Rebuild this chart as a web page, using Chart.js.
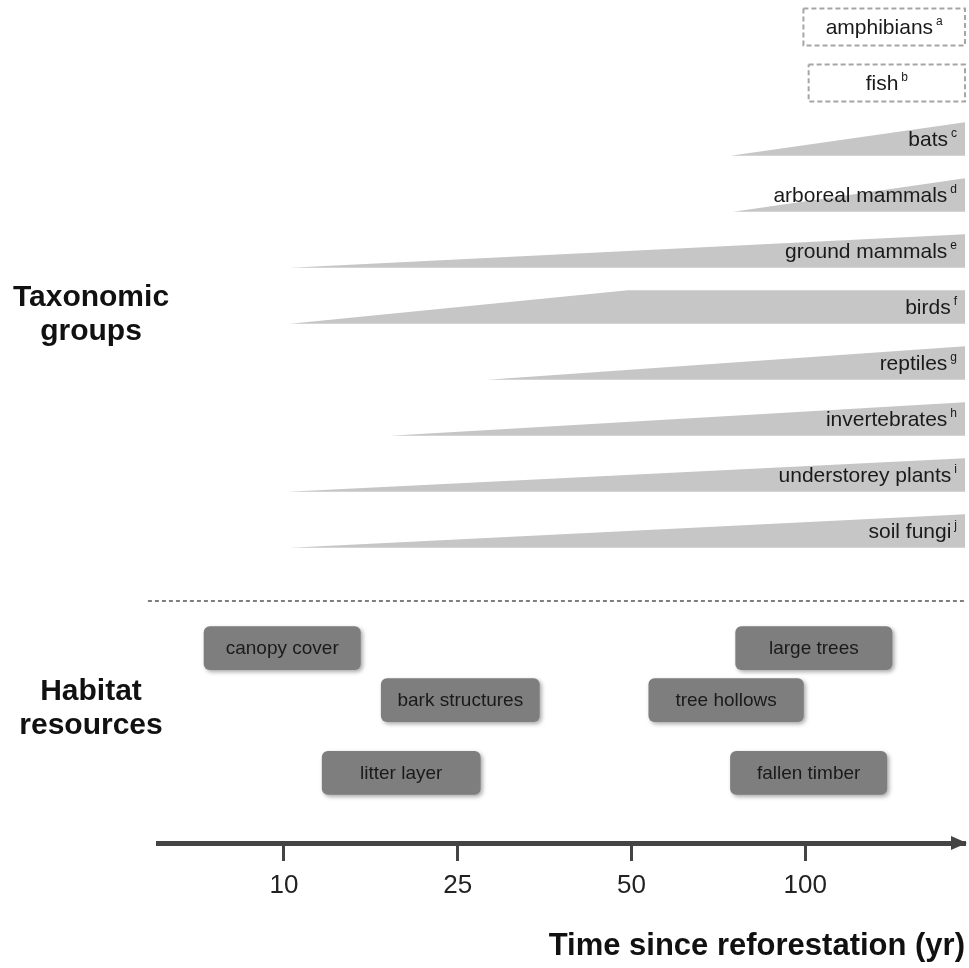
<!DOCTYPE html>
<html>
<head>
<meta charset="utf-8">
<script src="https://cdn.jsdelivr.net/npm/chart.js@4.4.1/dist/chart.umd.min.js"></script>
<style>
  html, body { margin: 0; padding: 0; background: #fff; }
  #wrap { width: 969px; height: 968px; position: relative; }
</style>
</head>
<body>
<div id="wrap"><canvas id="chart"></canvas></div>
<script>
// x axis is ordinal: positions 1..4 carry the year labels
const tickPositions = [1, 2, 3, 4];
const tickLabels = ['10', '25', '50', '100'];
const axisMin = 0.275;
const axisMax = 4.92;

// taxonomic groups, top to bottom (row = y value)
const taxa = ['amphibians', 'fish', 'bats', 'arboreal mammals', 'ground mammals', 'birds',
  'reptiles', 'invertebrates', 'understorey plants', 'soil fungi'];
const taxaNotes = ['a', 'b', 'c', 'd', 'e', 'f', 'g', 'h', 'i', 'j'];
const taxaRows = [0, 1, 2, 3, 4, 5, 6, 7, 8, 9];
// first response (wedge tip) and where the response is full; null = no evidence yet
const taxaStart = [3.99, 4.02, 3.57, 3.585, 1.035, 1.035, 2.17, 1.61, 1.02, 1.035];
const taxaFull = [null, null, 4.92, 4.92, 4.92, 2.98, 4.92, 4.92, 4.92, 4.92];

// habitat resources
const habitats = ['canopy cover', 'large trees', 'bark structures', 'tree hollows', 'litter layer', 'fallen timber'];
const habitatRows = [11.09, 11.09, 12.02, 12.02, 13.32, 13.32];
const habitatStart = [0.54, 3.60, 1.56, 3.10, 1.22, 3.57];
const habitatEnd = [1.44, 4.50, 2.47, 3.99, 2.13, 4.47];

const dividerRow = 10.25;
const sideLabels = [
  { lines: ['Taxonomic', 'groups'], row: 5.13 },
  { lines: ['Habitat', 'resources'], row: 12.17 }
];

const FONT = "'Liberation Sans', Arial, sans-serif";
const half = 0.3;

const datasets = [];
taxa.forEach(function(name, i) {
  const row = taxaRows[i];
  const start = taxaStart[i];
  if (taxaFull[i] === null) {
    const h = 0.33;
    datasets.push({
      type: 'line', label: name, clip: false,
      data: [
        { x: start, y: row - h }, { x: axisMax, y: row - h },
        { x: axisMax, y: row + h }, { x: start, y: row + h }, { x: start, y: row - h }
      ],
      borderColor: '#a5a5a5', borderWidth: 2, borderDash: [5, 3],
      fill: false, pointRadius: 0, tension: 0
    });
  } else {
    const pts = [{ x: start, y: row + half }, { x: taxaFull[i], y: row - half }];
    if (taxaFull[i] < axisMax) pts.push({ x: axisMax, y: row - half });
    pts.push({ x: axisMax, y: row + half });
    datasets.push({
      type: 'line', label: name, data: pts,
      backgroundColor: '#c6c6c6', borderWidth: 0, borderColor: 'rgba(0,0,0,0)',
      fill: 'shape', pointRadius: 0, tension: 0
    });
  }
});

datasets.push({
  type: 'line', label: 'divider', clip: false,
  data: [{ x: 0.217, y: dividerRow }, { x: axisMax, y: dividerRow }],
  borderColor: '#555', borderWidth: 1.5, borderDash: [4, 3],
  fill: false, pointRadius: 0
});

datasets.push({
  type: 'bar', label: 'habitat', indexAxis: 'y',
  data: habitats.map(function(h, i) { return { x: [habitatStart[i], habitatEnd[i]], y: habitatRows[i] }; }),
  backgroundColor: '#7e7e7e', borderRadius: 6, borderSkipped: false, barThickness: 43
});
const habitatIndex = datasets.length - 1;

const decorations = {
  id: 'decorations',
  beforeDatasetDraw(chart, args) {
    if (args.index !== habitatIndex) return;
    const ctx = chart.ctx;
    ctx.save();
    ctx.shadowColor = 'rgba(0,0,0,0.35)';
    ctx.shadowBlur = 4;
    ctx.shadowOffsetX = 2;
    ctx.shadowOffsetY = 2;
  },
  afterDatasetDraw(chart, args) {
    if (args.index === habitatIndex) chart.ctx.restore();
  },
  afterDatasetsDraw(chart) {
    const ctx = chart.ctx;
    const xs = chart.scales.x, ys = chart.scales.y;
    ctx.save();
    ctx.fillStyle = '#1a1a1a';
    ctx.textBaseline = 'middle';
    taxa.forEach(function(name, i) {
      const y = ys.getPixelForValue(taxaRows[i]);
      ctx.font = '21px ' + FONT;
      const w = ctx.measureText(name).width;
      ctx.font = '12px ' + FONT;
      const sw = ctx.measureText(taxaNotes[i]).width;
      let right;
      if (taxaFull[i] === null) {
        const cx = (xs.getPixelForValue(taxaStart[i]) + xs.getPixelForValue(axisMax)) / 2;
        right = cx + (w + 3 + sw) / 2;
      } else {
        right = xs.getPixelForValue(axisMax) - 8;
      }
      ctx.textAlign = 'left';
      ctx.font = '21px ' + FONT;
      ctx.fillText(name, right - sw - 3 - w, y + 1);
      ctx.font = '12px ' + FONT;
      ctx.fillText(taxaNotes[i], right - sw, y - 5);
    });
    // habitat labels
    const meta = chart.getDatasetMeta(habitatIndex);
    ctx.font = '19px ' + FONT;
    ctx.textAlign = 'center';
    meta.data.forEach(function(bar, i) {
      const c = bar.getCenterPoint();
      ctx.fillText(habitats[i], c.x, c.y + 1);
    });
    // side labels
    ctx.font = 'bold 30px ' + FONT;
    ctx.fillStyle = '#111';
    sideLabels.forEach(function(s) {
      const cy = ys.getPixelForValue(s.row);
      ctx.fillText(s.lines[0], 91, cy - 17);
      ctx.fillText(s.lines[1], 91, cy + 17);
    });
    // arrow head on the time axis
    const ay = chart.chartArea.bottom;
    const ax = xs.right;
    ctx.fillStyle = '#444';
    ctx.beginPath();
    ctx.moveTo(ax + 2, ay);
    ctx.lineTo(ax - 14, ay - 7);
    ctx.lineTo(ax - 14, ay + 7);
    ctx.closePath();
    ctx.fill();
    ctx.restore();
  }
};

new Chart(document.getElementById('chart'), {
  type: 'line',
  data: { datasets: datasets },
  plugins: [decorations],
  options: {
    responsive: true,
    maintainAspectRatio: false,
    animation: false,
    layout: { padding: { left: 158, right: 4, top: 0, bottom: 0 } },
    plugins: { legend: { display: false }, tooltip: { enabled: false } },
    scales: {
      x: {
        type: 'linear', position: 'bottom', min: axisMin, max: axisMax,
        offset: false, beginAtZero: false,
        afterBuildTicks: function(s) { s.ticks = tickPositions.map(function(v) { return { value: v }; }); },
        afterFit: function(s) { s.height = 125; },
        ticks: {
          font: { size: 26, family: FONT }, color: '#222', padding: 9,
          maxRotation: 0, autoSkip: false,
          callback: function(v) { const k = tickPositions.indexOf(v); return k >= 0 ? tickLabels[k] : ''; }
        },
        grid: { offset: false, drawOnChartArea: false, drawTicks: true, tickLength: 18, tickWidth: 3, tickColor: '#444' },
        border: { display: true, color: '#444', width: 5 },
        title: {
          display: true, text: 'Time since reforestation (yr)', align: 'end',
          font: { size: 31, weight: 'bold', family: FONT }, color: '#111',
          padding: { top: 0, bottom: 3 }
        }
      },
      y: {
        type: 'linear', display: false, reverse: true, min: -0.482, max: 14.571,
        offset: false, beginAtZero: false, grid: { offset: false }
      }
    }
  }
});
</script>
</body>
</html>
